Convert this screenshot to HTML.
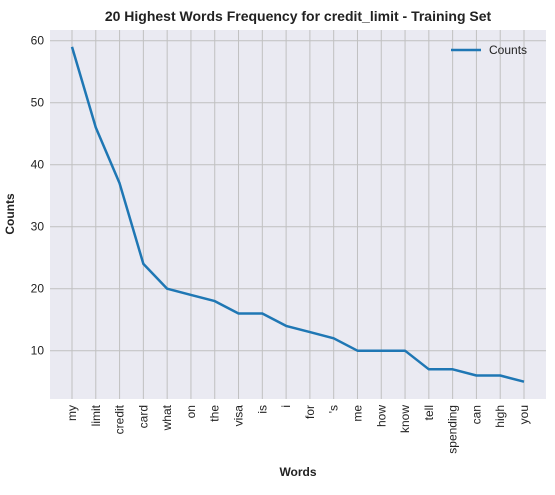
<!DOCTYPE html>
<html><head><meta charset="utf-8"><style>
body{margin:0;background:#fff;font-family:"Liberation Sans",Arial,sans-serif}
</style></head><body>
<svg id="chart" width="555" height="490" xmlns="http://www.w3.org/2000/svg">
<text x="298" y="21" text-anchor="middle" font-size="14" font-weight="bold" fill="#222">20 Highest Words Frequency for credit_limit - Training Set</text>
<rect x="50" y="30" width="496" height="369" fill="#eaeaf2"/>
<g id="grid"></g>
<g id="xlabels"></g>
<g id="ylabels"></g>
<path id="line" fill="none" stroke="#1f77b4" stroke-width="2.5" stroke-linejoin="round"/>
<text x="14" y="214" transform="rotate(-90 14 214)" text-anchor="middle" font-size="12" font-weight="bold" fill="#222">Counts</text>
<text x="298" y="476" text-anchor="middle" font-size="12" font-weight="bold" fill="#222">Words</text>
<g>
<line x1="451" y1="50" x2="481" y2="50" stroke="#1f77b4" stroke-width="2.5"/>
<text x="489" y="54" font-size="12" fill="#222">Counts</text>
</g>
</svg>
<script>
const words=["my","limit","credit","card","what","on","the","visa","is","i","for","'s","me","how","know","tell","spending","can","high","you"];
const counts=[59,46,37,24,20,19,18,16,16,14,13,12,10,10,10,7,7,6,6,5];
const yTicks=[10,20,30,40,50,60];
const NS="http://www.w3.org/2000/svg";
const xs=i=>72+i*(524-72)/19;
const ys=v=>40.7+(60-v)*6.2;
const grid=document.getElementById('grid'),xl=document.getElementById('xlabels'),yl=document.getElementById('ylabels');
function mk(t,a,p){const e=document.createElementNS(NS,t);for(const k in a)e.setAttribute(k,a[k]);p.appendChild(e);return e;}
words.forEach((w,i)=>{
 const g=mk('line',{x1:xs(i),x2:xs(i),y1:30,y2:399,stroke:'#c0c0c0','stroke-width':1},grid);
 
 
 const x=xs(i)+4,y=405;
 const t=mk('text',{x:x,y:y,transform:`rotate(-90 ${x} ${y})`,'text-anchor':'end','font-size':12,fill:'#222'},xl);
 t.textContent=w;
 
 
});
yTicks.forEach(v=>{
 const g=mk('line',{x1:50,x2:546,y1:ys(v),y2:ys(v),stroke:'#c0c0c0','stroke-width':1},grid);
 
 
 const t=mk('text',{x:44,y:ys(v)+4,'text-anchor':'end','font-size':12,fill:'#222'},yl);
 t.textContent=v;
 
 
});
document.getElementById('line').setAttribute('d',counts.map((c,i)=>(i?'L':'M')+xs(i)+','+ys(c)).join(' '));
</script>
</body></html>
